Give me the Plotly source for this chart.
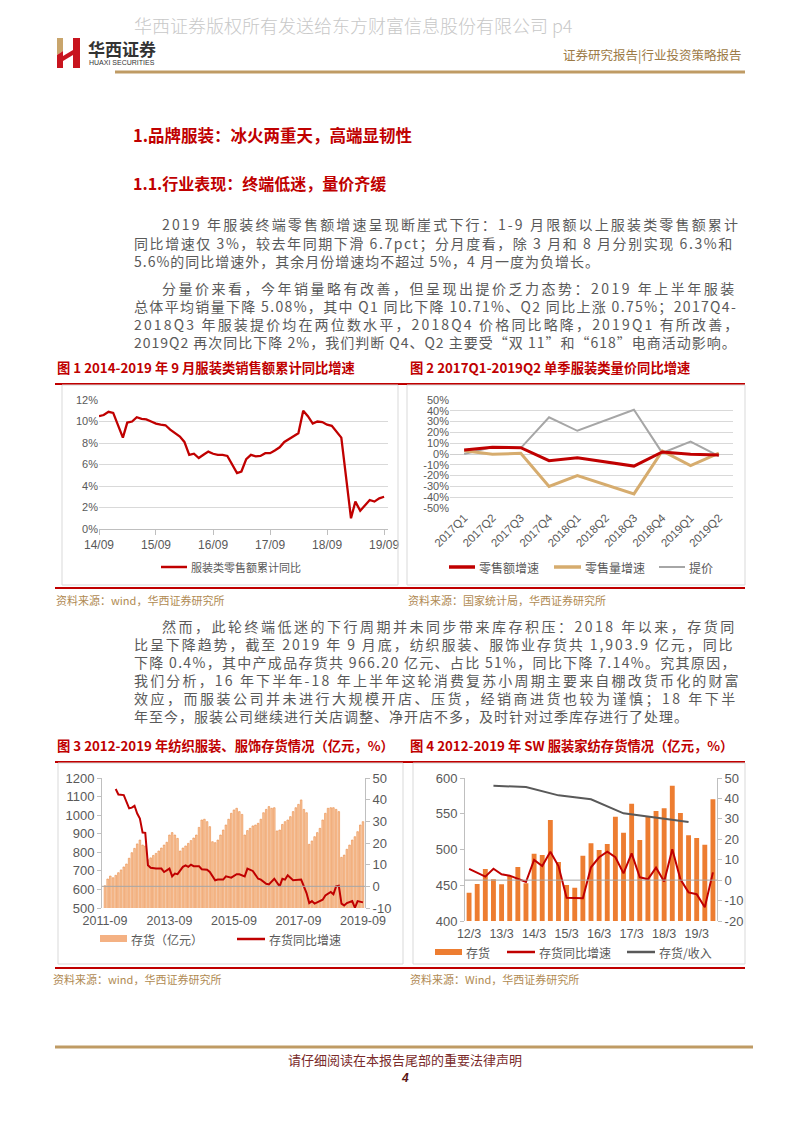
import plotly.graph_objects as go
import pandas as pd

W, H = 800, 1132
OX, OY = 8, 8   # the page body adds an 8px offset; compensate so page pixels match
CJK = "Noto Sans CJK SC"
NUM = "Liberation Sans, Arial, sans-serif"
RED = "#c00000"
GOLD = "#bf9b64"
SRC = "#b08a52"
BODY = "#5a5a5a"
AX = "#595959"
GRID = "#d9d9d9"

# ---------------- Chart 1: apparel retail sales, cumulative YoY (%) ----------------
c1_months = ["2014-09", "2014-10", "2014-11", "2014-12",
             "2015-02", "2015-03", "2015-04", "2015-05", "2015-06", "2015-07", "2015-08", "2015-09", "2015-10", "2015-11", "2015-12",
             "2016-02", "2016-03", "2016-04", "2016-05", "2016-06", "2016-07", "2016-08", "2016-09", "2016-10", "2016-11", "2016-12",
             "2017-02", "2017-03", "2017-04", "2017-05", "2017-06", "2017-07", "2017-08", "2017-09", "2017-10", "2017-11", "2017-12",
             "2018-02", "2018-03", "2018-04", "2018-05", "2018-06", "2018-07", "2018-08", "2018-09", "2018-10", "2018-11", "2018-12",
             "2019-02", "2019-03", "2019-04", "2019-05", "2019-06", "2019-07", "2019-08", "2019-09"]
c1_values = [10.5, 10.6, 10.9, 10.8,
             8.5, 9.9, 10.0, 10.4, 10.25, 10.2, 10.0, 9.8, 9.7, 9.65, 9.25,
             8.6, 8.1, 6.9, 7.0, 6.6, 6.9, 7.2, 7.0, 6.9, 6.9, 6.8,
             5.2, 5.35, 6.5, 6.9, 6.75, 6.8, 7.05, 7.05, 7.3, 7.6, 8.1,
             8.6, 8.9, 11.0, 10.5, 9.8, 10.0, 9.95, 9.7, 9.6, 9.0, 8.5,
             1.0, 2.55, 1.7, 2.2, 2.7, 2.55, 2.85, 3.0]
c1_tickvals = ["2014-09-01", "2015-09-01", "2016-09-01", "2017-09-01", "2018-09-01", "2019-09-01"]
c1_ticktext = ["14/09", "15/09", "16/09", "17/09", "18/09", "19/09"]

# ---------------- Chart 2: quarterly value / volume / price YoY (%) ----------------
c2_quarters = ["2017Q1", "2017Q2", "2017Q3", "2017Q4", "2018Q1", "2018Q2", "2018Q3", "2018Q4", "2019Q1", "2019Q2"]
c2_sales_growth = [3.7, 6.2, 5.8, -6.2, -3.4, -7.2, -11.2, 1.9, -0.3, -1.0]
c2_volume_growth = [3.1, -0.3, 0.6, -30.0, -20.0, -28.4, -36.9, 2.8, -10.7, 0.75]
c2_price = [0.0, 6.5, 5.5, 34.0, 21.5, 31.0, 41.0, 1.0, 11.5, -2.0]

# ---------------- Chart 3: textile & apparel inventory (100m yuan) & YoY ----------------
c3_months = list(pd.date_range("2011-09-01", periods=97, freq="MS").strftime("%Y-%m"))
c3_inventory = [620, 656, 672, 663,
                676, 690, 705, 721, 737, 768, 798, 821, 845, 866, 839, 834,
                760, 770, 783, 794, 807, 823, 839, 854, 893, 906, 893, 875,
                807, 823, 834, 848, 863, 877, 893, 934, 974, 978, 965, 938,
                857, 852, 866, 893, 920, 947, 978, 1010, 1028, 1037, 1019, 1004,
                893, 917, 929, 942, 947, 956, 978, 1013, 1031, 1046, 1037, 1040,
                915, 920, 950, 965, 974, 992, 1019, 1040, 1058, 1082, 1031, 1013,
                843, 861, 884, 906, 929, 974, 1010, 1037, 1040, 1040, 1031, 1019,
                773, 785, 816, 839, 866, 884, 911, 947, 965]
c3_yoy_months = ["2012-01", "2012-02", "2012-04", "2012-06", "2012-07", "2012-08", "2012-09", "2012-10", "2012-11", "2012-12",
                 "2013-01", "2013-02", "2013-04", "2013-06", "2013-07", "2013-09", "2013-10", "2013-11", "2013-12",
                 "2014-02", "2014-03", "2014-04", "2014-05", "2014-06", "2014-08", "2014-09", "2014-11", "2014-12",
                 "2015-02", "2015-03", "2015-05", "2015-06", "2015-08", "2015-10", "2015-11",
                 "2016-01", "2016-02", "2016-04", "2016-06", "2016-07", "2016-09", "2016-10", "2016-12",
                 "2017-02", "2017-03", "2017-04", "2017-05", "2017-07", "2017-10", "2017-11", "2017-12",
                 "2018-01", "2018-02", "2018-03", "2018-05", "2018-06", "2018-07", "2018-09", "2018-10", "2018-11", "2018-12",
                 "2019-01", "2019-02", "2019-03", "2019-05", "2019-06", "2019-07", "2019-09"]
c3_yoy = [44.9, 42.4, 42.1, 36.0, 36.3, 37.2, 33.6, 31.3, 24.8, 24.7,
          9.7, 8.6, 8.2, 8.2, 6.6, 8.2, 4.6, 5.9, 5.6,
          9.0, 9.7, 9.0, 10.0, 9.3, 9.3, 7.9, 7.7, 6.6,
          2.8, 3.1, 3.1, 4.6, 4.0, 5.6, 5.6,
          4.6, 8.2, 7.1, 3.5, 3.1, 1.2, 0.9, 3.5,
          0.0, 3.5, 3.1, 5.1, 2.8, 3.1, -0.3, -3.1,
          -7.7, -6.8, -8.0, -6.9, -6.2, -4.2, -2.6, -3.7, 0.0, 0.3,
          -8.0, -8.8, -7.7, -6.8, -9.9, -6.8, -7.4]
c3_ticks = ["2011-09", "2013-09", "2015-09", "2017-09", "2019-09"]

# ---------------- Chart 4: SW apparel & home textile inventory ----------------
c4_quarters = ["12/3", "12/6", "12/9", "12/12", "13/3", "13/6", "13/9", "13/12",
               "14/3", "14/6", "14/9", "14/12", "15/3", "15/6", "15/9", "15/12",
               "16/3", "16/6", "16/9", "16/12", "17/3", "17/6", "17/9", "17/12",
               "18/3", "18/6", "18/9", "18/12", "19/3", "19/6", "19/9"]
c4_inventory = [439.6, 451.7, 472.7, 458.3, 451.3, 462.9, 475.5, 452.7,
                494.2, 492.3, 541.3, 482.5, 450.3, 446.6, 491.4, 508.6,
                499.3, 507.7, 545.9, 523.5, 564.1, 513.3, 545.9, 553.8,
                557.6, 589.3, 551.0, 519.8, 516.1, 506.8, 570.2]
c4_yoy = [5.5, 3.7, 1.7, 5.6, 2.9, 2.2, 0.7, -0.9,
          9.9, 6.9, 13.9, 6.9, -8.6, -8.9, -8.9, 6.3,
          11.2, 13.9, 11.2, 3.3, 13.1, 1.4, 0.4, 6.1,
          -0.7, 15.1, 0.4, -6.0, -6.9, -13.3, 3.8]
c4_ratio_quarters = ["12/12", "13/12", "14/12", "15/12", "16/12", "17/12", "18/12"]
c4_ratio = [46.2, 45.6, 41.5, 39.6, 32.7, 30.6, 28.5]
c4_ticks = ["12/3", "13/3", "14/3", "15/3", "16/3", "17/3", "18/3", "19/3"]


def fx(x):
    return (x - OX) / W


def fy(y):
    return 1 - (y - OY) / H


fig = go.Figure()

# Chart 1
fig.add_trace(go.Scatter(x=c1_months, y=c1_values, mode="lines", xaxis="x", yaxis="y",
                         line=dict(color=RED, width=2.3), showlegend=False))
# Chart 2
fig.add_trace(go.Scatter(x=c2_quarters, y=c2_price, mode="lines", xaxis="x2", yaxis="y2",
                         line=dict(color="#a6a6a6", width=2), showlegend=False))
fig.add_trace(go.Scatter(x=c2_quarters, y=c2_volume_growth, mode="lines", xaxis="x2", yaxis="y2",
                         line=dict(color="#d6ac6e", width=3), showlegend=False))
fig.add_trace(go.Scatter(x=c2_quarters, y=c2_sales_growth, mode="lines", xaxis="x2", yaxis="y2",
                         line=dict(color=RED, width=3), showlegend=False))
# Chart 3
fig.add_trace(go.Bar(x=c3_months, y=c3_inventory, xaxis="x3", yaxis="y3",
                     marker=dict(color="#f9c9a2", line=dict(color="#e98a45", width=0.6)), showlegend=False))
fig.add_trace(go.Scatter(x=c3_yoy_months, y=c3_yoy, mode="lines", xaxis="x3", yaxis="y4",
                         line=dict(color=RED, width=2), showlegend=False))
# Chart 4
fig.add_trace(go.Bar(x=c4_quarters, y=c4_inventory, xaxis="x4", yaxis="y5",
                     marker=dict(color="#ed7d31", line=dict(width=0)), showlegend=False))
fig.add_trace(go.Scatter(x=c4_ratio_quarters, y=c4_ratio, mode="lines", xaxis="x4", yaxis="y6",
                         line=dict(color="#595959", width=2), showlegend=False))
fig.add_trace(go.Scatter(x=c4_quarters, y=c4_yoy, mode="lines", xaxis="x4", yaxis="y6",
                         line=dict(color=RED, width=2), showlegend=False))

tf_small = dict(family=NUM, size=11, color=AX)
tf_big = dict(family=NUM, size=13, color=AX)

layout_axes = dict(
    xaxis=dict(domain=[fx(99), fx(388)], anchor="y", type="date", range=["2014-09-01", "2019-09-26"],
               tickvals=c1_tickvals, ticktext=c1_ticktext, ticks="outside", ticklen=5, tickcolor="#bfbfbf",
               showline=True, linecolor="#bfbfbf", showgrid=False, zeroline=False, automargin=False,
               tickfont=dict(family=NUM, size=12, color=AX)),
    yaxis=dict(domain=[fy(529), fy(400)], anchor="x", range=[0, 12], automargin=False,
               tickvals=[0, 2, 4, 6, 8, 10, 12], ticktext=["0%", "2%", "4%", "6%", "8%", "10%", "12%"],
               showgrid=True, gridcolor=GRID, zeroline=False, showline=False, tickfont=tf_small),
    xaxis2=dict(domain=[fx(450), fx(733)], anchor="y2", type="category", range=[-0.5, 9.5], automargin=False,
                tickangle=-45, showgrid=False, showline=False, zeroline=False, ticks="",
                tickfont=dict(family=NUM, size=11.5, color=AX)),
    yaxis2=dict(domain=[fy(508), fy(400)], anchor="x2", range=[-50, 50], automargin=False,
                tickvals=[-50, -40, -30, -20, -10, 0, 10, 20, 30, 40, 50],
                ticktext=["-50%", "-40%", "-30%", "-20%", "-10%", "0%", "10%", "20%", "30%", "40%", "50%"],
                showgrid=True, gridcolor=GRID, zeroline=True, zerolinecolor="#d0d0d0", zerolinewidth=1,
                showline=False, tickfont=tf_small),
    xaxis3=dict(domain=[fx(102), fx(365)], anchor="y3", type="category", categoryorder="array",
                categoryarray=c3_months, range=[-1.1, 96.75], tickvals=c3_ticks, ticktext=c3_ticks,
                ticks="", showline=False, showgrid=False, zeroline=False, tickangle=0, automargin=False,
                ticklabelstandoff=3, tickfont=dict(family=NUM, size=12.5, color=AX)),
    yaxis3=dict(domain=[fy(908), fy(778)], anchor="x3", range=[500, 1200], dtick=100, automargin=False,
                ticks="outside", ticklen=4, tickcolor="#bfbfbf", showline=True, linecolor="#bfbfbf",
                showgrid=False, zeroline=False, tickfont=tf_big),
    yaxis4=dict(overlaying="y3", anchor="x3", side="right", range=[-10, 50], automargin=False,
                tickvals=[-10, 0, 10, 20, 30, 40, 50], ticktext=["-10", "0", "10", "20", "30", "40", "50"],
                ticks="outside", ticklen=4, tickcolor="#bfbfbf", showline=True, linecolor="#bfbfbf",
                showgrid=False, zeroline=False, tickfont=tf_big),
    xaxis4=dict(domain=[fx(465), fx(717)], anchor="y5", type="category", categoryorder="array",
                categoryarray=c4_quarters, range=[-0.5, 30.5], tickvals=c4_ticks, ticktext=c4_ticks,
                ticks="", showline=False, showgrid=False, zeroline=False, tickangle=0, automargin=False,
                ticklabelstandoff=3, tickfont=dict(family=NUM, size=12.5, color=AX)),
    yaxis5=dict(domain=[fy(921), fy(778)], anchor="x4", range=[400, 600], dtick=50, automargin=False,
                ticks="outside", ticklen=4, tickcolor="#bfbfbf", showline=True, linecolor="#bfbfbf",
                showgrid=False, zeroline=False, tickfont=tf_big),
    yaxis6=dict(overlaying="y5", anchor="x4", side="right", range=[-20, 50], automargin=False,
                tickvals=[-20, -10, 0, 10, 20, 30, 40, 50],
                ticktext=["-20", "-10", "0", "10", "20", "30", "40", "50"],
                ticks="outside", ticklen=4, tickcolor="#bfbfbf", showline=True, linecolor="#bfbfbf",
                showgrid=False, zeroline=False, tickfont=tf_big),
)

shapes = []
anns = []


def line(x0, y0, x1, y1, color, width=1):
    shapes.append(dict(type="line", xref="paper", yref="paper", x0=fx(x0), y0=fy(y0), x1=fx(x1), y1=fy(y1),
                       line=dict(color=color, width=width), layer="above"))


def rect(x0, y0, x1, y1, fill=None, border=None, width=1):
    shapes.append(dict(type="rect", xref="paper", yref="paper", x0=fx(x0), y0=fy(y0), x1=fx(x1), y1=fy(y1),
                       fillcolor=fill if fill else "rgba(0,0,0,0)",
                       line=dict(color=border if border else "rgba(0,0,0,0)", width=width if border else 0),
                       layer="above"))


def poly(pts, fill):
    path = "M " + " L ".join(f"{fx(x):.5f},{fy(y):.5f}" for x, y in pts) + " Z"
    shapes.append(dict(type="path", xref="paper", yref="paper", path=path, fillcolor=fill,
                       line=dict(width=0), layer="above"))


def text(x, y, s, size=12, color=BODY, anchor="left", bold=False, family=CJK, weight=None):
    w = weight if weight else (700 if bold else 400)
    anns.append(dict(x=fx(x), y=fy(y), xref="paper", yref="paper", text=s, showarrow=False,
                     xanchor=anchor, yanchor="middle", borderpad=0,
                     font=dict(size=size, color=color, family=family, weight=w)))


def est_width(s, size):
    w = 0.0
    for ch in s:
        if ord(ch) > 0x2000:
            w += 1.0
        elif ch == " ":
            w += 0.3
        elif ch in ".,:;":
            w += 0.3
        elif ch == "%":
            w += 0.85
        elif ch == "-":
            w += 0.4
        elif ch.isdigit():
            w += 0.58
        elif ch.isupper():
            w += 0.65
        else:
            w += 0.55
    return w * size


BODY_SIZE = 14
RIGHT = 742


def para(lines, y0, step):
    for i, s in enumerate(lines):
        x0 = 161 if i == 0 else 133
        if i < len(lines) - 1:
            sp = (RIGHT - x0 - est_width(s, BODY_SIZE)) / max(len(s) - 1, 1)
            sp = max(0.0, min(sp, 2.5))
        else:
            sp = 1.0
        text(x0, y0 + i * step, f'<span style="letter-spacing:{sp:.2f}px">{s}</span>',
             size=BODY_SIZE, color=BODY)


# ---------- header ----------
text(133, 25, "华西证券版权所有发送给东方财富信息股份有限公司 p4", size=18, color="#c8c8c8", weight=300)
poly([(57, 38), (63, 38), (63, 51), (57, 55)], "#c9a56c")
poly([(57, 55), (63, 51), (63, 68), (57, 68)], "#c8141e")
poly([(63, 56), (73, 50), (73, 55), (63, 61)], "#c8141e")
poly([(73, 38), (80, 38), (80, 68), (73, 68)], "#c8141e")
text(87, 48, "华西证券", size=17, color="#333333", bold=True)
text(88, 62, "HUAXI SECURITIES", size=7, color="#333333", family="Liberation Sans Narrow, Arial Narrow, sans-serif")
text(742, 55, "证券研究报告|行业投资策略报告", size=12.5, color="#9c7a45", anchor="right")
line(115, 72, 745, 72, GOLD, 3)

# ---------- headings & body ----------
text(132, 135, "1.品牌服装：冰火两重天，高端显韧性", size=16.5, color=RED, bold=True)
text(132, 183, "1.1.行业表现：终端低迷，量价齐缓", size=16, color=RED, bold=True)

para1 = ["2019 年服装终端零售额增速呈现断崖式下行：1-9 月限额以上服装类零售额累计",
         "同比增速仅 3%，较去年同期下滑 6.7pct；分月度看，除 3 月和 8 月分别实现 6.3%和",
         "5.6%的同比增速外，其余月份增速均不超过 5%，4 月一度为负增长。"]
para2 = ["分量价来看，今年销量略有改善，但呈现出提价乏力态势：2019 年上半年服装",
         "总体平均销量下降 5.08%，其中 Q1 同比下降 10.71%、Q2 同比上涨 0.75%；2017Q4-",
         "2018Q3 年服装提价均在两位数水平，2018Q4 价格同比略降，2019Q1 有所改善，",
         "2019Q2 再次同比下降 2%，我们判断 Q4、Q2 主要受“双 11”和“618”电商活动影响。"]
para3 = ["然而，此轮终端低迷的下行周期并未同步带来库存积压：2018 年以来，存货同",
         "比呈下降趋势，截至 2019 年 9 月底，纺织服装、服饰业存货共 1,903.9 亿元，同比",
         "下降 0.4%，其中产成品存货共 966.20 亿元、占比 51%，同比下降 7.14%。究其原因，",
         "我们分析，16 年下半年-18 年上半年这轮消费复苏小周期主要来自棚改货币化的财富",
         "效应，而服装公司并未进行大规模开店、压货，经销商进货也较为谨慎；18 年下半",
         "年至今，服装公司继续进行关店调整、净开店不多，及时针对过季库存进行了处理。"]

para(para1, 224, 18.5)
para(para2, 288, 18)
para(para3, 626, 18)

# ---------- figure frames ----------
FT = 13.3
text(56, 367, "图 1 2014-2019 年 9 月服装类销售额累计同比增速", size=FT, color=RED, bold=True)
text(409, 367, "图 2 2017Q1-2019Q2 单季服装类量价同比增速", size=FT, color=RED, bold=True)
line(55, 384, 745, 384, RED, 2)
rect(62, 385, 398, 585, border="#d9d9d9", width=1)
rect(407, 385, 745, 585, border="#d9d9d9", width=1)
line(55, 588, 745, 588, RED, 2)
text(55, 600, "资料来源：wind，华西证券研究所", size=11, color=SRC)
text(407, 600, "资料来源：国家统计局，华西证券研究所", size=11, color=SRC)

text(56, 745, "图 3 2012-2019 年纺织服装、服饰存货情况（亿元，%）", size=FT, color=RED, bold=True)
text(409, 745, "图 4 2012-2019 年 SW 服装家纺存货情况（亿元，%）", size=FT, color=RED, bold=True)
line(55, 762, 745, 762, RED, 2)
rect(58, 763, 403, 964, border="#d9d9d9", width=1)
rect(413, 763, 745, 964, border="#d9d9d9", width=1)
line(55, 968, 745, 968, RED, 2)
text(52, 979, "资料来源：wind，华西证券研究所", size=11, color=SRC)
text(409, 979, "资料来源：Wind，华西证券研究所", size=11, color=SRC)

# ---------- legends ----------
line(161, 567, 187, 567, RED, 2.5)
text(190, 567, "服装类零售额累计同比", size=11, color=AX)

line(449, 567, 475, 567, RED, 3.5)
text(478, 567, "零售额增速", size=12, color=AX)
line(554, 567, 581, 567, "#d6ac6e", 3.5)
text(584, 567, "零售量增速", size=12, color=AX)
line(659, 567, 685, 567, "#a6a6a6", 2)
text(688, 567, "提价", size=12, color=AX)

rect(100, 935, 127, 942, fill="#f4b183")
text(130, 939, "存货（亿元）", size=12, color=AX)
line(237, 939, 265, 939, RED, 2.5)
text(268, 939, "存货同比增速", size=12, color=AX)

rect(435, 949, 462, 955, fill="#ed7d31")
text(465, 952, "存货", size=12, color=AX)
line(507, 952, 535, 952, RED, 2.5)
text(538, 952, "存货同比增速", size=12, color=AX)
line(627, 952, 655, 952, "#595959", 2.5)
text(658, 952, "存货/收入", size=12, color=AX)

# zero lines of the secondary axes (category axis crossing)
shapes.append(dict(type="line", xref="x3 domain", yref="y4", x0=0, x1=1, y0=0, y1=0,
                   line=dict(color="#a6a6a6", width=1), layer="above"))
shapes.append(dict(type="line", xref="x4 domain", yref="y6", x0=0, x1=1, y0=0, y1=0,
                   line=dict(color="#a6a6a6", width=1), layer="above"))

# ---------- footer ----------
line(55, 1047, 753, 1047, GOLD, 3)
text(405, 1059, "请仔细阅读在本报告尾部的重要法律声明", size=13, color="#7a2a2a", anchor="center")
text(405, 1078, "<i>4</i>", size=12, color="#5a1414", anchor="center", bold=True, family=NUM)

fig.update_layout(
    width=W, height=H, margin=dict(l=0, r=0, t=0, b=0, pad=0, autoexpand=False),
    paper_bgcolor="white", plot_bgcolor="white",
    showlegend=False, bargap=0.4,
    shapes=shapes, annotations=anns,
    **layout_axes,
)

fig.write_html("out.html")
